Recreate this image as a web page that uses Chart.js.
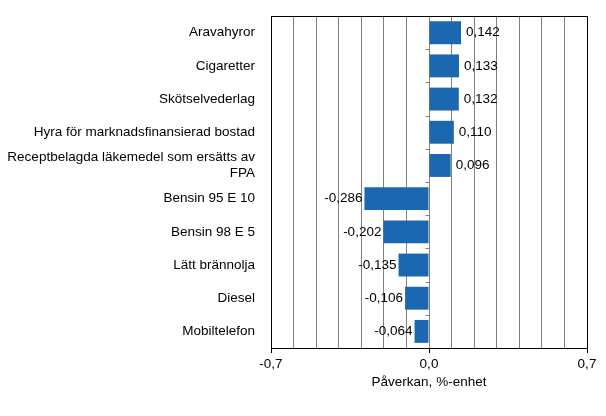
<!DOCTYPE html>
<html>
<head>
<meta charset="utf-8">
<script src="https://cdn.jsdelivr.net/npm/chart.js@4/dist/chart.umd.min.js"></script>
<style>
  html, body { margin: 0; padding: 0; background: #fff; }
  #wrap { width: 606px; height: 416px; }
</style>
</head>
<body>
<div id="wrap"><canvas id="myChart" width="606" height="416"></canvas></div>
<script>
// kategorier och värden
const categories = [
  'Aravahyror',
  'Cigaretter',
  'Skötselvederlag',
  'Hyra för marknadsfinansierad bostad',
  ['Receptbelagda läkemedel som ersätts av', 'FPA'],
  'Bensin 95 E 10',
  'Bensin 98 E 5',
  'Lätt brännolja',
  'Diesel',
  'Mobiltelefon'
];
const impact = [0.142, 0.133, 0.132, 0.110, 0.096, -0.286, -0.202, -0.135, -0.106, -0.064];
const xTickLabels = [-0.7, 0.0, 0.7];

const FONT = '"Liberation Sans", Arial, sans-serif';
const FSIZE = 13.5;
const fmt = (v, d) => v.toFixed(d).replace('.', ',');
const isLabelled = v => xTickLabels.some(t => Math.abs(t - v) < 1e-6);

// ram runt plottytan + små streck vid nollan
const framePlugin = {
  id: 'frame',
  afterDraw(chart) {
    const { ctx, chartArea: a, scales } = chart;
    ctx.save();
    ctx.strokeStyle = '#000';
    ctx.lineWidth = 1;
    ctx.strokeRect(Math.round(a.left) + 0.5, Math.round(a.top) + 0.5,
      Math.round(a.right - a.left), Math.round(a.bottom - a.top));
    const x0 = Math.round(scales.x.getPixelForValue(0)) + 0.5;
    const step = (a.bottom - a.top) / categories.length;
    ctx.strokeStyle = '#808080';
    ctx.beginPath();
    for (let i = 1; i < categories.length; i++) {
      const y = Math.round(a.top + i * step) + 0.5;
      ctx.moveTo(x0 - 4, y);
      ctx.lineTo(x0, y);
    }
    ctx.stroke();
    ctx.restore();
  }
};

// värdeetiketter vid staplarnas ände
const valueLabels = {
  id: 'valueLabels',
  afterDatasetsDraw(chart) {
    const { ctx } = chart;
    const meta = chart.getDatasetMeta(0);
    ctx.save();
    ctx.font = FSIZE + 'px ' + FONT;
    ctx.fillStyle = '#000';
    ctx.textBaseline = 'middle';
    meta.data.forEach((bar, i) => {
      const v = impact[i];
      if (v >= 0) {
        ctx.textAlign = 'left';
        ctx.fillText(fmt(v, 3), bar.x + 5, bar.y);
      } else {
        ctx.textAlign = 'right';
        ctx.fillText(fmt(v, 3), bar.x - 2, bar.y);
      }
    });
    ctx.restore();
  }
};

const ctx = document.getElementById('myChart');
const chart = new Chart(ctx, {
  type: 'bar',
  data: {
    labels: categories,
    datasets: [{
      data: impact,
      backgroundColor: '#1c68b0',
      borderWidth: 0,
      categoryPercentage: 1.0,
      barPercentage: 0.69
    }]
  },
  options: {
    indexAxis: 'y',
    responsive: false,
    animation: false,
    layout: { padding: { top: 14, right: 19, bottom: 26, left: 0 } },
    plugins: {
      legend: { display: false },
      tooltip: { enabled: false }
    },
    scales: {
      x: {
        min: -0.7,
        max: 0.7,
        afterBuildTicks(scale) {
          const t = [];
          for (let i = -7; i <= 7; i++) t.push({ value: i / 10 });
          scale.ticks = t;
        },
        afterFit(scale) { scale.height = 42; },
        ticks: {
          autoSkip: false,
          maxRotation: 0,
          padding: 3,
          color: '#000',
          font: { family: FONT, size: FSIZE },
          callback: v => isLabelled(v) ? fmt(v, 1) : ''
        },
        grid: {
          color: '#808080',
          lineWidth: 1,
          tickLength: 5,
          tickColor: c => (c.tick && isLabelled(c.tick.value)) ? '#000' : 'rgba(0,0,0,0)'
        },
        border: { display: true, color: '#000' },
        title: {
          display: true,
          text: 'Påverkan, %-enhet',
          color: '#000',
          font: { family: FONT, size: FSIZE },
          padding: { top: 4, bottom: 0 }
        }
      },
      y: {
        afterFit(scale) { scale.width = 271; },
        ticks: {
          autoSkip: false,
          color: '#000',
          padding: 8,
          font: { family: FONT, size: FSIZE }
        },
        grid: { display: false },
        border: { display: true, color: '#000' }
      }
    }
  },
  plugins: [framePlugin, valueLabels]
});
</script>
</body>
</html>
